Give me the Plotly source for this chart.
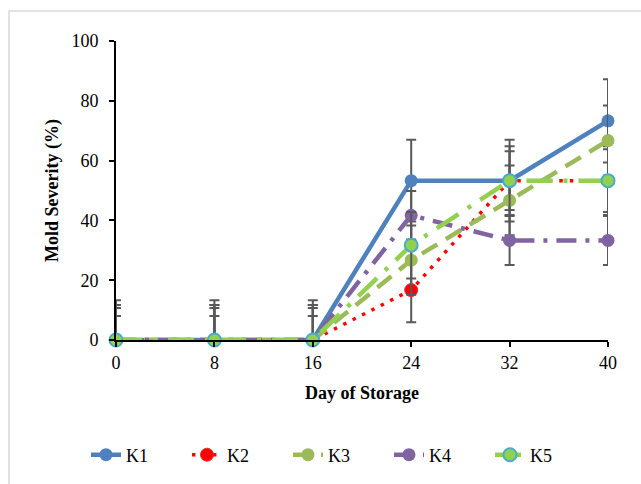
import plotly.graph_objects as go

days = [0, 8, 16, 24, 32, 40]
series_names = ["K1", "K2", "K3", "K4", "K5"]
k1 = [0, 0, 0, 53.3, 53.3, 73.3]
k2 = [0, 0, 0, 16.7, 53.3, 53.3]
k3 = [0, 0, 0, 26.7, 46.7, 66.7]
k4 = [0, 0, 0, 41.7, 33.3, 33.3]
k5 = [0, 0, 0, 31.7, 53.3, 53.3]
err_k1 = [13.3, 13.3, 13.3, 13.7, 13.7, 13.9]
err_k2 = [11.7, 11.7, 11.7, 10.8, 11.5, 11.5]
err_k3 = [10.7, 10.7, 10.7, 11.6, 11.7, 11.7]
err_k4 = [8.0, 8.0, 8.0, 8.1, 8.2, 8.2]
err_k5 = [11.7, 11.7, 11.7, 11.1, 9.8, 10.5]
y_ticks = [0, 20, 40, 60, 80, 100]

values = [k1, k2, k3, k4, k5]
errors = [err_k1, err_k2, err_k3, err_k4, err_k5]
styles = [
    dict(color="#4F81BD", dash="solid", width=4.5, mfill="#4F81BD", mline="#4F81BD", mlw=0),
    dict(color="#FF0000", dash="3.5px,7px", width=3.5, mfill="#FF0000", mline="#E03030", mlw=1),
    dict(color="#9BBB59", dash="18px,10px", width=4.5, mfill="#9BBB59", mline="#9BBB59", mlw=0),
    dict(color="#8064A2", dash="20px,9px,4px,9px", width=4.5, mfill="#8064A2", mline="#8064A2", mlw=0),
    dict(color="#92D050", dash="26px,11px,4px,11px", width=4.5, mfill="#92D050", mline="#4BACC6", mlw=2),
]

fig = go.Figure()
for name, vals, errs, st in zip(series_names, values, errors, styles):
    minus = [min(e, v) for e, v in zip(errs, vals)]
    fig.add_trace(go.Scatter(
        x=days, y=vals, name=name, mode="lines+markers",
        line=dict(color=st["color"], width=st["width"], dash=st["dash"]),
        marker=dict(size=13, color=st["mfill"], line=dict(color=st["mline"], width=st["mlw"])),
        error_y=dict(type="data", symmetric=False, array=errs, arrayminus=minus,
                     color="#595959", thickness=2, width=5),
        cliponaxis=False,
    ))

font_family = "Liberation Serif, Times New Roman, serif"
fig.update_layout(
    width=641, height=484,
    margin=dict(l=116, r=33, t=41, b=143),
    paper_bgcolor="white", plot_bgcolor="white",
    font=dict(family=font_family, size=18, color="black"),
    xaxis=dict(range=[0, 40], tickvals=days, ticktext=[str(d) for d in days],
               showline=True, linecolor="black", linewidth=2, ticks="outside",
               tickcolor="black", tickwidth=2, ticklen=5, showgrid=False, zeroline=False,
               title=dict(text="<b>Day of Storage</b>", font=dict(size=18), standoff=15)),
    yaxis=dict(range=[0, 100], tickvals=y_ticks,
               showline=True, linecolor="black", linewidth=2, ticks="outside",
               tickcolor="black", tickwidth=2, ticklen=5, showgrid=False, zeroline=False,
               ticklabelstandoff=7,
               title=dict(text="<b>Mold Severity (%)</b>", font=dict(size=18), standoff=8)),
    legend=dict(orientation="h", x=-0.061, xanchor="left", y=-0.38, yanchor="middle",
                font=dict(size=18), entrywidth=56, bgcolor="rgba(0,0,0,0)"),
    shapes=[dict(type="rect", xref="paper", yref="paper",
                 x0=(9 - 116) / 492, y0=(341 - 11) / 300, x1=1.2, y1=-0.6,
                 line=dict(color="#D9D9D9", width=1.5), layer="below")],
)

fig.write_html("out.html")
